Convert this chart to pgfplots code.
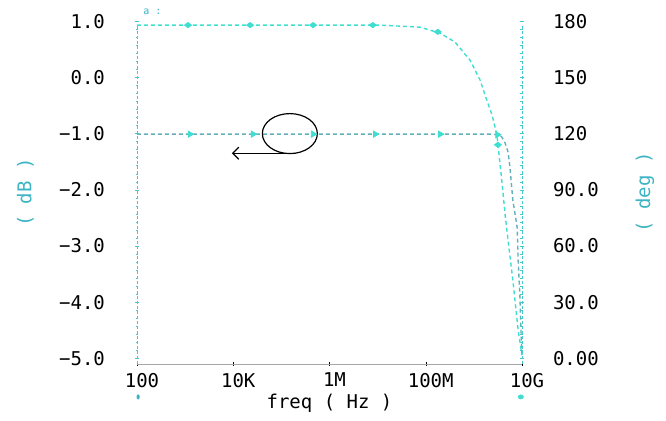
\documentclass[border=0pt]{standalone}
\usepackage{fontspec}
\setmainfont{DejaVu Sans Mono}
\usepackage{pgfplots}
\pgfplotsset{compat=1.18}
\usetikzlibrary{arrows.meta}

\definecolor{phasecyan}{RGB}{64,222,208}
\definecolor{magteal}{RGB}{100,175,185}
\definecolor{axcyan}{RGB}{70,200,205}
\definecolor{lblcyan}{RGB}{60,180,195}

\begin{document}
\begin{tikzpicture}
\path[use as bounding box] (-68.5pt,-28.5pt) rectangle (264.5pt,182pt);

% left axis: magnitude in dB
\begin{axis}[
  scale only axis, width=192.5pt, height=171.4pt,
  xmode=log, xmin=1e2, xmax=1e10,
  clip=false, tick align=inside,
  major tick length=2pt, minor tick length=1.5pt,
  font=\fontsize{9.5}{11}\selectfont,
  axis x line=bottom, axis y line=left,
  separate axis lines,
  axis line style={draw=none},
  ymin=-5.1, ymax=1.0,
  xtick={1e2,1e4,1e6,1e8,1e10},
  xticklabels={100,10K,1M,100M,10G},
  xminorticks=false,
  x tick style={black},
  xticklabel style={xshift=2.5pt},
  ytick={-5,-4,-3,-2,-1,0,1},
  yticklabels={−5.0,−4.0,−3.0,−2.0,−1.0,0.0,1.0},
  minor y tick num=6,
  y tick style={axcyan},
  yticklabel style={xshift=-11.5pt},
  xlabel={freq ( Hz )},
  xlabel style={at={(axis description cs:0.5,0)}, anchor=center, yshift=-19.5pt},
  ylabel={( dB )},
  ylabel style={at={(axis description cs:-0.29,0.5)}, anchor=center, text=lblcyan},
]
% axis lines drawn by hand: grey bottom line, cyan dashed left line
\draw[gray!70] (rel axis cs:0,0) -- (rel axis cs:1,0);
\draw[axcyan, dash pattern=on 1.5pt off 1pt] (rel axis cs:0,0) -- (rel axis cs:0,0.99);

\addplot[magteal, line width=0.7pt, dash pattern=on 2pt off 1.5pt] coordinates {
  (1e2,-1.01)(2.14e9,-1.01)(3.16e9,-1.02)(3.80e9,-1.06)(4.47e9,-1.17)
  (5.13e9,-1.33)(5.62e9,-1.60)(6.46e9,-2.19)(7.24e9,-2.45)(7.94e9,-2.67)
  (8.32e9,-3.25)(9.12e9,-3.96)(9.6e9,-4.6)(1e10,-4.94)
};
\addplot[only marks, mark=triangle*, mark size=1.8pt,
  mark options={rotate=-90, fill=phasecyan, draw=phasecyan}] coordinates {
  (1.26e3,-1.01)(2.57e4,-1.01)(4.57e5,-1.01)(8.91e6,-1.01)(2.0e8,-1.01)(3.1e9,-1.02)
};

% annotation: circle + arrow pointing at the dB axis
\draw[black, line width=0.6pt] (axis cs:1.5e5,-1.0) ellipse [x radius=13.75pt, y radius=10pt];
\draw[black, line width=0.6pt, -{Straight Barb[length=3pt, width=6pt]}]
  (axis cs:1.74e5,-1.35) -- (axis cs:9.4e3,-1.35);

\node[font=\tiny, text=lblcyan] at (rel axis cs:0.04,1.027) {a :};
\fill[lblcyan] (rel axis cs:0.003,-0.096) ellipse [x radius=0.8pt, y radius=1.3pt];
\fill[phasecyan] (rel axis cs:0.997,-0.096) ellipse [x radius=1.5pt, y radius=1.2pt];
\end{axis}

% right axis: phase in degrees
\begin{axis}[
  scale only axis, width=192.5pt, height=171.4pt,
  xmode=log, xmin=1e2, xmax=1e10,
  clip=false, tick align=inside,
  major tick length=2pt, minor tick length=1.5pt,
  font=\fontsize{9.5}{11}\selectfont,
  axis x line=none, axis y line=right,
  separate axis lines,
  axis line style={draw=none},
  xtick=\empty, xminorticks=false,
  ymin=-3, ymax=180,
  ytick={0,30,60,90,120,150,180},
  yticklabels={0.00,30.0,60.0,90.0,120,150,180},
  minor y tick num=6,
  y tick style={axcyan},
  yticklabel style={xshift=11pt},
  ylabel={( deg )},
  ylabel style={at={(axis description cs:1.3195,0.5)}, anchor=center, rotate=0, text=lblcyan},
]
\draw[axcyan, dash pattern=on 1.5pt off 1pt] (rel axis cs:1,0) -- (rel axis cs:1,0.99);

\addplot[phasecyan, line width=0.7pt, dash pattern=on 2pt off 1.5pt] coordinates {
  (1e2,177.9)(1.12e7,177.9)(7.59e7,176.8)(2.0e8,173.6)(4.07e8,168.8)
  (8.32e8,159.2)(1.35e9,148.5)(1.86e9,137.8)(2.40e9,129.8)(3.02e9,119.1)
  (3.80e9,95.1)(4.47e9,76.4)(5.13e9,63.1)(6.46e9,41.7)(8.32e9,15.1)(1e10,1.7)
};
\addplot[only marks, mark=diamond*, mark size=1.3pt,
  mark options={fill=phasecyan, draw=phasecyan, xscale=1.8}] coordinates {
  (1.15e3,177.9)(2.24e4,177.9)(4.57e5,177.9)(7.94e6,177.9)(1.78e8,174.3)(3.16e9,114)
};
\end{axis}
\end{tikzpicture}
\end{document}
